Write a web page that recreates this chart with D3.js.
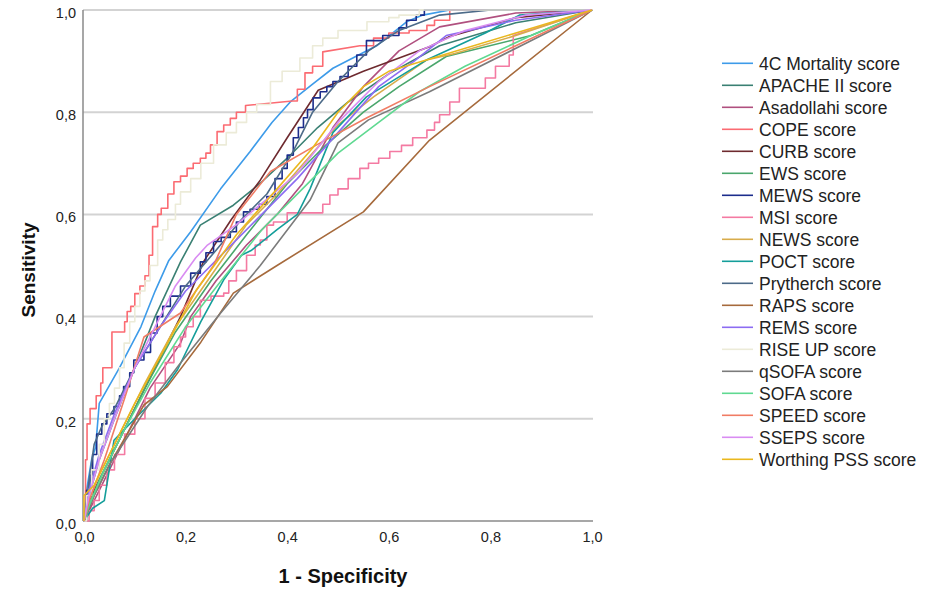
<!DOCTYPE html>
<html>
<head>
<meta charset="utf-8">
<script src="https://cdn.jsdelivr.net/npm/d3@7"></script>
<style>
  body { margin: 0; background: #fff; }
  svg { display: block; font-family: "Liberation Sans", Arial, sans-serif; }
</style>
</head>
<body>
<svg id="chart" width="928" height="589"></svg>
<script>
// series names, in legend order
var names = ["4C Mortality score", "APACHE II score", "Asadollahi score", "COPE score", "CURB score",
    "EWS score", "MEWS score", "MSI score", "NEWS score", "POCT score", "Prytherch score", "RAPS score",
    "REMS score", "RISE UP score", "qSOFA score", "SOFA score", "SPEED score", "SSEPS score",
    "Worthing PSS score"];

var colors = ["#3d9be9", "#3a8073", "#b0507f", "#fb6b72", "#6e2a2f",
    "#4aa66c", "#1c2d8c", "#f47aa2", "#d8ac4c", "#149e9a", "#4c6a88", "#a66a3c",
    "#8c6cf2", "#ecebd8", "#7b7b7b", "#5fd991", "#f07c64", "#d98cf2",
    "#eab81e"];

// staircase-type curves (many thresholds)
var stepped = ["COPE score", "MEWS score", "MSI score", "RISE UP score"];

var yTicks = [0, 0.2, 0.4, 0.6, 0.8, 1.0];
var xTicks = [0, 0.2, 0.4, 0.6, 0.8, 1.0];

// [1 - specificity, sensitivity]
var mortality4C = [[0,0],[0.005,0.06],[0.015,0.12],[0.023,0.145],[0.03,0.23],[0.07,0.3],[0.112,0.38],[0.14,0.45],
    [0.167,0.51],[0.21,0.566],[0.269,0.65],[0.327,0.723],[0.37,0.78],[0.406,0.82],[0.45,0.855],[0.49,0.886],
    [0.576,0.93],[0.635,0.977],[0.667,0.99],[0.72,1],[1,1]];
var apache = [[0,0],[0.01,0.05],[0.03,0.12],[0.06,0.2],[0.1,0.3],[0.14,0.4],[0.19,0.507],[0.229,0.579],[0.294,0.618],
    [0.347,0.661],[0.4,0.71],[0.46,0.77],[0.52,0.82],[0.6,0.875],[0.7,0.93],[0.85,0.975],[1,1]];
var asadollahi = [[0,0],[0.01,0.02],[0.04,0.08],[0.08,0.16],[0.13,0.26],[0.19,0.348],[0.21,0.4],[0.26,0.47],[0.32,0.54],
    [0.38,0.6],[0.43,0.66],[0.49,0.77],[0.55,0.85],[0.62,0.92],[0.7,0.967],[0.85,0.994],[1,1]];
var cope = [[0,0],[0.003,0.12],[0.006,0.19],[0.012,0.22],[0.024,0.245],[0.033,0.27],[0.037,0.3],[0.055,0.37],[0.08,0.39],
    [0.085,0.41],[0.092,0.42],[0.1,0.445],[0.11,0.46],[0.12,0.48],[0.128,0.52],[0.135,0.576],[0.145,0.6],[0.152,0.612],
    [0.165,0.64],[0.177,0.664],[0.19,0.675],[0.203,0.69],[0.215,0.7],[0.229,0.71],[0.24,0.72],[0.249,0.736],
    [0.262,0.762],[0.275,0.775],[0.288,0.788],[0.3,0.8],[0.318,0.813],[0.41,0.822],[0.42,0.845],[0.435,0.877],
    [0.45,0.89],[0.47,0.918],[0.543,0.93],[0.57,0.945],[0.6,0.955],[0.64,0.96],[0.675,0.97],[0.69,0.98],[0.72,1],[1,1]];
var curb = [[0,0],[0.01,0.04],[0.04,0.1],[0.09,0.2],[0.14,0.3],[0.19,0.4],[0.235,0.507],[0.29,0.59],[0.347,0.667],
    [0.4,0.75],[0.461,0.843],[0.55,0.88],[0.68,0.928],[0.72,0.948],[0.85,0.985],[1,1]];
var ews = [[0,0],[0.01,0.03],[0.03,0.08],[0.07,0.16],[0.12,0.26],[0.18,0.37],[0.25,0.47],[0.32,0.56],[0.4,0.66],
    [0.47,0.73],[0.55,0.8],[0.62,0.85],[0.713,0.909],[0.88,0.95],[1,1]];
var mews = [[0,0],[0.005,0.06],[0.012,0.09],[0.017,0.13],[0.025,0.17],[0.035,0.19],[0.045,0.21],[0.059,0.224],
    [0.07,0.245],[0.078,0.263],[0.09,0.29],[0.098,0.315],[0.118,0.33],[0.131,0.368],[0.144,0.4],[0.155,0.42],
    [0.17,0.44],[0.19,0.46],[0.21,0.485],[0.229,0.507],[0.24,0.525],[0.255,0.547],[0.27,0.555],[0.288,0.566],
    [0.3,0.585],[0.314,0.605],[0.327,0.61],[0.345,0.62],[0.36,0.635],[0.376,0.67],[0.39,0.69],[0.4,0.716],
    [0.412,0.75],[0.422,0.77],[0.432,0.789],[0.44,0.805],[0.451,0.828],[0.465,0.84],[0.478,0.85],[0.49,0.86],
    [0.504,0.87],[0.52,0.89],[0.537,0.912],[0.556,0.94],[0.588,0.95],[0.62,0.965],[0.635,0.98],[0.654,0.99],
    [0.67,1],[1,1]];
var msi = [[0,0],[0.01,0.02],[0.02,0.04],[0.03,0.07],[0.045,0.1],[0.06,0.13],[0.08,0.17],[0.1,0.2],[0.12,0.24],
    [0.14,0.27],[0.16,0.31],[0.177,0.341],[0.19,0.36],[0.2,0.38],[0.215,0.4],[0.229,0.432],[0.25,0.44],[0.275,0.446],
    [0.285,0.47],[0.3,0.49],[0.32,0.52],[0.337,0.54],[0.347,0.55],[0.36,0.579],[0.373,0.585],[0.4,0.603],
    [0.455,0.603],[0.47,0.62],[0.484,0.638],[0.5,0.65],[0.52,0.67],[0.543,0.69],[0.56,0.7],[0.58,0.71],
    [0.602,0.723],[0.625,0.735],[0.647,0.75],[0.675,0.765],[0.69,0.78],[0.7,0.795],[0.72,0.82],[0.739,0.847],
    [0.79,0.867],[0.81,0.89],[0.837,0.912],[0.845,0.95],[1,1]];
var news = [[0,0],[0.005,0.03],[0.03,0.09],[0.07,0.17],[0.12,0.27],[0.18,0.38],[0.25,0.48],[0.32,0.58],[0.38,0.64],
    [0.45,0.72],[0.5,0.775],[0.57,0.83],[0.674,0.902],[0.73,0.915],[0.85,0.95],[1,1]];
var poct = [[0,0],[0.017,0.025],[0.04,0.04],[0.059,0.158],[0.1,0.2],[0.151,0.25],[0.184,0.296],[0.23,0.39],
    [0.275,0.472],[0.31,0.52],[0.33,0.53],[0.38,0.57],[0.42,0.6],[0.445,0.65],[0.49,0.76],[0.556,0.83],
    [0.674,0.902],[0.79,0.955],[0.857,0.99],[1,1]];
var prytherch = [[0,0],[0.01,0.08],[0.02,0.15],[0.035,0.185],[0.06,0.22],[0.1,0.3],[0.15,0.38],[0.2,0.46],
    [0.26,0.53],[0.31,0.59],[0.36,0.64],[0.41,0.72],[0.45,0.8],[0.5,0.86],[0.56,0.92],[0.62,0.96],[0.7,0.99],
    [0.8,1],[1,1]];
var raps = [[0,0],[0.02,0.05],[0.05,0.11],[0.118,0.227],[0.164,0.263],[0.23,0.35],[0.294,0.446],[0.38,0.5],
    [0.55,0.605],[0.68,0.745],[1,1]];
var rems = [[0,0],[0.01,0.06],[0.03,0.13],[0.06,0.21],[0.1,0.3],[0.15,0.38],[0.2,0.45],[0.28,0.53],[0.35,0.6],
    [0.42,0.67],[0.5,0.76],[0.58,0.85],[0.65,0.9],[0.713,0.95],[0.85,0.98],[1,1]];
var riseUp = [[0,0],[0.005,0.05],[0.015,0.1],[0.03,0.15],[0.04,0.2],[0.05,0.23],[0.06,0.26],[0.07,0.3],[0.079,0.348],
    [0.09,0.39],[0.1,0.42],[0.11,0.45],[0.12,0.47],[0.13,0.5],[0.145,0.55],[0.155,0.57],[0.165,0.59],[0.18,0.62],
    [0.19,0.644],[0.21,0.67],[0.23,0.7],[0.255,0.736],[0.28,0.76],[0.3,0.78],[0.32,0.8],[0.34,0.815],[0.367,0.86],
    [0.39,0.88],[0.425,0.906],[0.45,0.93],[0.47,0.945],[0.5,0.96],[0.557,0.977],[0.6,0.985],[0.62,0.99],[0.66,1],[1,1]];
var qsofa = [[0,0],[0.02,0.05],[0.05,0.11],[0.125,0.224],[0.19,0.309],[0.269,0.407],[0.347,0.5],[0.445,0.628],
    [0.5,0.74],[0.56,0.785],[0.68,0.84],[0.87,0.935],[1,1]];
var sofa = [[0,0],[0.01,0.03],[0.04,0.1],[0.08,0.18],[0.13,0.27],[0.2,0.38],[0.27,0.47],[0.35,0.57],[0.43,0.65],
    [0.5,0.72],[0.58,0.78],[0.66,0.84],[0.75,0.89],[0.88,0.95],[1,1]];
var speed = [[0,0],[0.01,0.04],[0.04,0.12],[0.08,0.24],[0.118,0.36],[0.19,0.407],[0.255,0.5],[0.3,0.6],
    [0.367,0.684],[0.458,0.736],[0.557,0.789],[0.68,0.85],[0.85,0.93],[1,1]];
var sseps = [[0,0],[0.01,0.05],[0.03,0.12],[0.06,0.2],[0.1,0.3],[0.14,0.38],[0.18,0.46],[0.22,0.515],[0.243,0.54],
    [0.3,0.58],[0.36,0.63],[0.42,0.68],[0.5,0.78],[0.58,0.86],[0.66,0.92],[0.75,0.96],[0.87,0.99],[1,1]];
var worthing = [[0,0],[0,0.05],[0.02,0.07],[0.05,0.13],[0.1,0.23],[0.16,0.34],[0.22,0.45],[0.3,0.56],[0.38,0.65],
    [0.45,0.73],[0.5,0.8],[0.55,0.85],[0.6,0.88],[0.7,0.91],[0.85,0.955],[1,1]];

var values = [mortality4C, apache, asadollahi, cope, curb, ews, mews, msi, news, poct, prytherch, raps,
    rems, riseUp, qsofa, sofa, speed, sseps, worthing];

var svg = d3.select("#chart");
svg.append("rect").attr("width", 928).attr("height", 589).attr("fill", "#fff");

var x = d3.scaleLinear().domain([0, 1]).range([84, 592]);
var y = d3.scaleLinear().domain([0, 1]).range([521, 10]);

// horizontal grid lines
svg.append("g").selectAll("line")
    .data(yTicks.filter(function (d) { return d > 0; }))
    .enter().append("line")
    .attr("x1", 83).attr("x2", 593)
    .attr("y1", function (d) { return y(d); })
    .attr("y2", function (d) { return y(d); })
    .attr("stroke", "#d3d3d3")
    .attr("stroke-width", 2);

// axes, no tick marks, comma decimals
var fmt = function (d) { return d3.format(".1f")(d).replace(".", ","); };
var yAxis = svg.append("g").attr("transform", "translate(83,0)")
    .call(d3.axisLeft(y).tickValues(yTicks).tickSize(0).tickPadding(7).tickFormat(fmt));
var xAxis = svg.append("g").attr("transform", "translate(0,521)")
    .call(d3.axisBottom(x).tickValues(xTicks).tickSize(0).tickPadding(11).tickFormat(fmt));
[yAxis, xAxis].forEach(function (ax) {
    ax.select(".domain").attr("stroke", "#8a8a8a").attr("stroke-width", 1.5);
    ax.selectAll("text").attr("font-size", 14.5).attr("fill", "#222")
        .attr("font-family", "'Liberation Sans', Arial, sans-serif");
});
yAxis.select(".domain").attr("d", "M0,10V521");
xAxis.select(".domain").attr("d", "M83,0H593");
yAxis.selectAll("text").attr("dy", "0.5em");

// ROC steps: a staircase for small gaps, straight otherwise
function stepPoints (pts) {
    var out = [pts[0]];
    for (var i = 1; i < pts.length; i++) {
        var p = pts[i - 1], q = pts[i];
        if (q[0] > p[0] && q[1] > p[1] && q[0] - p[0] < 0.06) {
            out.push([q[0], p[1]]);
        }
        out.push(q);
    }
    return out;
}

var line = d3.line()
    .x(function (d) { return x(d[0]); })
    .y(function (d) { return y(d[1]); });

var curves = svg.append("g").attr("fill", "none").attr("stroke-width", 1.6).attr("stroke-linejoin", "round");
names.forEach(function (name, i) {
    var pts = stepped.indexOf(name) >= 0 ? stepPoints(values[i]) : values[i];
    curves.append("path")
        .attr("d", line(pts))
        .attr("stroke", colors[i]);
});

// axis titles
svg.append("text")
    .attr("x", 343).attr("y", 583)
    .attr("text-anchor", "middle")
    .attr("font-size", 20).attr("font-weight", "bold").attr("fill", "#111")
    .text("1 - Specificity");
svg.append("text")
    .attr("transform", "translate(35,270) rotate(-90)")
    .attr("text-anchor", "middle")
    .attr("font-size", 19).attr("font-weight", "bold").attr("fill", "#111")
    .text("Sensitivity");

// legend
var legend = svg.append("g").selectAll("g")
    .data(names)
    .enter().append("g")
    .attr("transform", function (d, i) { return "translate(722," + (63.3 + i * 22) + ")"; });
legend.append("line")
    .attr("x1", 0).attr("x2", 31)
    .attr("stroke", function (d, i) { return colors[i]; })
    .attr("stroke-width", 1.6);
legend.append("text")
    .attr("x", 37).attr("dy", "0.36em")
    .attr("font-size", 17.5).attr("fill", "#222")
    .text(function (d) { return d; });
</script>
</body>
</html>
